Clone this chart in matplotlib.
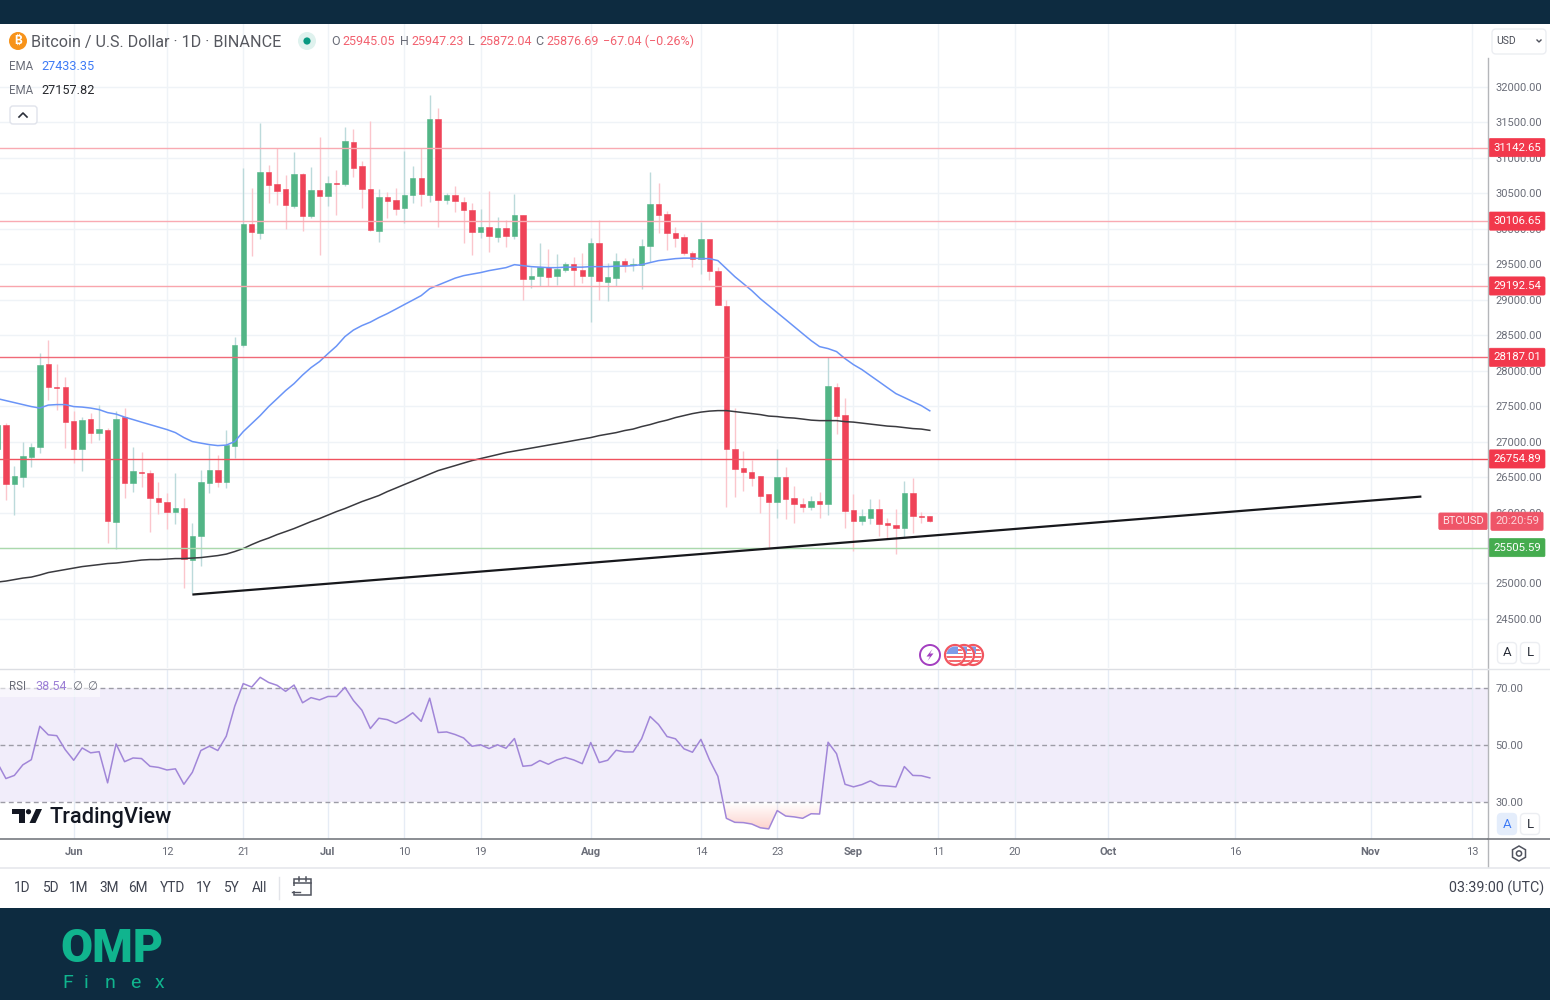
import numpy as np
import pandas as pd
import matplotlib
matplotlib.use("Agg")
import matplotlib.pyplot as plt
import matplotlib.dates as mdates
from matplotlib.patches import Rectangle, Circle, FancyBboxPatch, Polygon, RegularPolygon

plt.rcParams['font.family'] = ['Roboto', 'DejaVu Sans']

# ---------------- data ----------------
dates = pd.date_range('2023-05-23', periods=111, freq='D')

opens = [26901,27239,26408,26506,26788,26929,28099,27774,27774,27295,26901,27324,27126,27169,25872,27352,26422,26577,26563,26211,
 26154,26013,26070,25337,25675,26422,26605,26436,26943,28366,30071,29944,30804,30635,30564,30325,30776,30184,30550,30466,
 30649,30635,31227,30888,30564,29973,30452,30409,30297,30480,30719,30480,31551,30409,30480,30381,30268,29958,30029,29888,
 30015,29902,30198,29296,29338,29465,29338,29423,29508,29423,29338,29803,29254,29310,29550,29493,29493,29761,30353,30212,
 29944,29888,29663,29578,29860,29409,28916,26901,26633,26577,26520,26267,26154,26506,26211,26126,26084,26168,26126,27774,
 27380,26041,25886,25929,26056,25858,25830,25788,26281,25957,25945.05]
highs = [27281,27260,26661,27000,26985,28254,28437,28099,27915,27436,27352,27408,27521,27197,27436,27479,26929,26859,26605,26436,
 26281,26563,26211,25858,26605,26957,26816,27169,28479,30860,30578,31494,30902,31142,30762,31086,30790,30874,31297,30747,
 30832,31438,31410,30959,31522,30564,30522,30578,31100,30888,31142,31889,31706,30508,30607,30452,30367,30283,30536,30170,
 30128,30494,30198,29465,29803,29719,29648,29536,29606,29663,29874,30128,29522,29663,29592,29592,29860,30804,30649,30254,
 30029,29930,29691,30099,29860,29465,29000,27479,26873,26746,26520,26267,26901,26647,26380,26211,26239,26295,28197,27831,
 27620,26267,26056,26196,26196,25929,26056,26450,26492,26013,25947.23]
lows = [26859,26182,25971,26365,26647,26845,27591,27450,26915,26704,26591,26985,27028,25576,25492,26211,26295,26365,25731,25985,
 25774,25844,24942,24872,25252,26281,26365,26351,26774,28338,29620,29860,30367,30339,30001,30297,29973,30156,29634,30325,
 30198,30607,30733,30297,29973,29818,30156,30198,30085,30367,30325,30381,30029,30353,30240,29803,29634,29874,29677,29818,
 29747,29860,29000,29169,29198,29198,29212,29395,29198,29240,28690,29000,28986,29198,29395,29409,29155,29536,29944,29705,
 29747,29634,29465,29367,29282,28930,26084,26225,26309,26380,25999,25506,25929,25915,25858,26013,26041,25929,25971,27112,
 25788,25464,25830,25844,25675,25633,25421,25661,25717,25858,25872.04]
closes = [27239,26408,26520,26802,26929,28084,27774,27760,27281,26901,27310,27126,27183,25886,27324,26422,26591,26563,26211,26154,
 26013,26070,25351,25675,26436,26605,26436,26957,28366,30071,29958,30804,30621,30536,30339,30776,30184,30550,30466,30649,
 30635,31241,30860,30564,29987,30452,30395,30283,30480,30719,30494,31551,30409,30480,30395,30268,29958,30029,29902,30015,
 29902,30198,29296,29338,29465,29324,29437,29508,29423,29338,29803,29268,29324,29550,29493,29508,29761,30353,30198,29944,
 29874,29663,29578,29860,29409,28930,26901,26619,26577,26492,26239,26154,26506,26196,26126,26084,26168,26126,27789,27366,
 26027,25886,25957,26056,25844,25830,25788,26281,25957,25943,25876.69]

ema_fast = [27605,27577,27549,27521,27493,27472,27514,27521,27521,27493,27486,27472,27450,27408,27387,27345,27310,27274,27239,27204,
 27169,27126,27056,27000,26978,26957,26943,26950,27000,27140,27253,27366,27493,27605,27718,27817,27937,28042,28127,28239,
 28345,28479,28571,28634,28683,28747,28803,28866,28930,28993,29057,29155,29205,29254,29303,29338,29360,29381,29409,29430,
 29451,29493,29479,29465,29458,29451,29451,29458,29458,29458,29465,29465,29465,29472,29472,29479,29493,29522,29550,29564,
 29578,29585,29585,29578,29578,29550,29437,29324,29226,29127,29014,28916,28817,28719,28620,28521,28423,28338,28310,28268,
 28169,28084,28014,27929,27845,27760,27676,27620,27563,27507,27433.35]
ema_slow = [25020,25034,25055,25076,25090,25119,25154,25175,25196,25217,25238,25252,25266,25281,25288,25302,25316,25330,25337,25337,
 25344,25351,25351,25358,25365,25379,25393,25414,25450,25492,25548,25598,25640,25689,25731,25774,25823,25872,25915,25964,
 26013,26056,26105,26154,26196,26239,26295,26344,26394,26443,26492,26542,26591,26626,26661,26697,26732,26760,26788,26816,
 26845,26866,26887,26908,26929,26950,26971,26992,27014,27035,27056,27084,27105,27126,27155,27176,27211,27239,27274,27302,
 27338,27366,27394,27415,27429,27436,27436,27422,27408,27394,27380,27359,27352,27338,27331,27317,27302,27295,27295,27295,
 27281,27274,27260,27246,27232,27218,27211,27197,27183,27176,27157.82]
rsi = [43.8,38.3,39.4,43.1,44.9,56.6,53.6,53.3,48.4,44.7,49.0,47.3,47.7,36.8,50.4,44.2,45.5,45.3,42.6,42.2,
 41.3,41.7,36.3,40.5,48.1,49.6,48.1,53.1,63.6,71.5,70.3,73.7,71.9,70.9,68.8,71.0,64.8,66.6,65.8,67.0,
 67.0,70.2,65.6,62.2,55.8,59.4,58.9,57.6,59.2,61.3,58.3,66.4,54.4,54.6,53.7,52.5,49.6,50.1,48.8,50.1,
 48.9,52.3,42.6,42.9,44.6,43.3,44.8,45.7,44.8,43.5,50.9,43.9,44.7,48.2,47.6,47.6,52.2,60.0,57.2,53.0,
 52.2,48.7,47.5,52.0,44.9,39.1,24.4,23.0,22.9,22.4,21.1,20.7,27.1,25.2,24.9,24.4,26.0,25.9,51.0,47.0,
 36.3,35.4,36.2,37.5,35.9,35.7,35.4,42.5,39.4,39.3,38.54]

resistance_levels = [31142.65, 30106.65, 29192.54, 28187.01, 26754.89]
support_levels = [25505.59]
trend_dates = ['2023-06-15', '2023-11-07']
trend_prices = [24844, 26225]

price_ticks = [24500, 25000, 25500, 26000, 26500, 27000, 27500, 28000, 28500, 29000, 29500, 30000, 30500, 31000, 31500, 32000]
hidden_price_labels = [25500]   # fully covered by the 25505.59 badge in the reference
rsi_ticks = [30, 50, 70]
time_ticks = ['2023-06-01', '2023-06-12', '2023-06-21', '2023-07-01', '2023-07-10', '2023-07-19', '2023-08-01', '2023-08-14',
              '2023-08-23', '2023-09-01', '2023-09-11', '2023-09-20', '2023-10-01', '2023-10-16', '2023-11-01', '2023-11-13']
time_labels = ['Jun', '12', '21', 'Jul', '10', '19', 'Aug', '14', '23', 'Sep', '11', '20', 'Oct', '16', 'Nov', '13']
ranges = ['1D', '5D', '1M', '3M', '6M', 'YTD', '1Y', '5Y', 'All']

# ---------------- helpers / layout ----------------
NAVY = '#0d2b40'
UP, DOWN = '#52b586', '#ef4358'
UPW, DOWNW = '#bcdadb', '#fbc6cc'
GRID = '#eff3f7'
TXT = '#6a6d78'
W, H = 1550, 1000

fig = plt.figure(figsize=(W / 100, H / 100), dpi=100, facecolor='white')

def px_axes(l, t, r, b):
    return fig.add_axes([l / W, 1 - b / H, (r - l) / W, (b - t) / H])

xnum = mdates.date2num(dates)
day0 = mdates.date2num(pd.Timestamp('2023-06-01'))
xl = (day0 + (1.0 - 74.7) / 8.476, day0 + (1489.0 - 74.7) / 8.476)
tick_nums = mdates.date2num(pd.to_datetime(time_ticks))

# main pane
ax = px_axes(0, 24, 1488, 668)
p_of_y = lambda y: 25505.59 + (547.6 - y) / 0.07096
ax.set_xlim(*xl)
ax.set_ylim(p_of_y(668), p_of_y(24))
ax.set_facecolor('none')
for s in ax.spines.values():
    s.set_visible(False)
ax.set_xticks(tick_nums)
ax.set_yticks(price_ticks)
ax.set_yticklabels(['' if v in hidden_price_labels else f'{v:.2f}' for v in price_ticks])
ax.yaxis.tick_right()
ax.tick_params(axis='y', length=0, pad=5.5, labelsize=8, labelcolor=TXT)
ax.tick_params(axis='x', length=0, labelbottom=False)
ax.grid(True, color=GRID, lw=1.0)
ax.set_axisbelow(True)

o, h_, l_, c = map(np.array, (opens, highs, lows, closes))
up = c >= o
ax.vlines(xnum[up], l_[up], h_[up], color=UPW, lw=1.0, zorder=2)
ax.vlines(xnum[~up], l_[~up], h_[~up], color=DOWNW, lw=1.0, zorder=2)
ax.bar(xnum[up], (c - o)[up], bottom=o[up], width=0.64, color=UP, edgecolor=UP, lw=0.4, zorder=3)
ax.bar(xnum[~up], (c - o)[~up], bottom=o[~up], width=0.64, color=DOWN, edgecolor=DOWN, lw=0.4, zorder=3)

ax.plot(xnum, ema_fast, color='#6a94f7', lw=1.1, zorder=4)
ax.plot(xnum, ema_slow, color='#3a3a3f', lw=1.1, zorder=4)

res_cols = ['#f9aab2', '#f9aab2', '#f9a5ad', '#f06a78', '#f0525f']
for lv, col in zip(resistance_levels, res_cols):
    ax.axhline(lv, color=col, lw=1.0, zorder=4)
for lv in support_levels:
    ax.axhline(lv, color='#abd9ac', lw=1.0, zorder=4)
ax.plot(mdates.date2num(pd.to_datetime(trend_dates)), trend_prices, color='#17181c', lw=1.6, zorder=5, solid_capstyle='butt')

def badge(a, level, txt, col, txtcol='white'):
    a.annotate(txt, xy=(1, level), xycoords=('axes fraction', 'data'), xytext=(29, 0), textcoords='offset pixels',
               ha='center', va='center', fontsize=8.2, color=txtcol, zorder=20, annotation_clip=False,
               bbox=dict(boxstyle='round,pad=0.36,rounding_size=0.12', fc=col, ec=col, lw=0.5))

for lv in resistance_levels:
    badge(ax, lv, f'{lv:.2f}', '#f2384c')
for lv in support_levels:
    badge(ax, lv, f'{lv:.2f}', '#45ac4f')
badge(ax, closes[-1], '20:20:59', '#ef5568', '#fcd3d8')
ax.annotate('BTCUSD', xy=(1, closes[-1]), xycoords=('axes fraction', 'data'), xytext=(-25, 0), textcoords='offset pixels',
            ha='center', va='center', fontsize=8, color='#fde3e6', zorder=20, annotation_clip=False,
            bbox=dict(boxstyle='round,pad=0.3,rounding_size=0.12', fc='#ef5568', ec='#ef5568', lw=0.5))

# RSI pane
ar = px_axes(0, 669, 1488, 839)
r_of_y = lambda y: 70 - (y - 687.9) / 2.86
ar.set_xlim(*xl)
ar.set_ylim(r_of_y(839), r_of_y(669))
ar.set_facecolor('none')
for s in ar.spines.values():
    s.set_visible(False)
ar.spines['bottom'].set_visible(True)
ar.spines['bottom'].set_color('#777a80')
ar.spines['bottom'].set_linewidth(1.2)
ar.axhspan(30, 70, color='#f1edfa', zorder=0.5, lw=0)
ar.set_xticks(tick_nums)
ar.set_xticklabels(time_labels)
for lab, t in zip(ar.get_xticklabels(), time_labels):
    lab.set_fontweight('bold' if not t.isdigit() else 'normal')
ar.tick_params(axis='x', length=0, pad=6, labelsize=8, labelcolor=TXT)
ar.grid(True, axis='x', color='#e6ecf5', lw=1.0)
ar.set_axisbelow(True)
ar.set_yticks(rsi_ticks)
ar.set_yticklabels([f'{v:.2f}' for v in rsi_ticks])
ar.yaxis.tick_right()
ar.tick_params(axis='y', length=0, pad=5.5, labelsize=8, labelcolor=TXT)
for lv in rsi_ticks:
    ar.axhline(lv, color='#9d9ca6', lw=1.0, dashes=(3.5, 2.5), zorder=2)

rsi_arr = np.array(rsi)
poly = ar.fill_between(xnum, rsi_arr, 30, where=rsi_arr < 30, interpolate=True, color='none', lw=0)
grad = np.zeros((64, 2, 4))
grad[..., 0], grad[..., 1], grad[..., 2] = 0.98, 0.55, 0.50
grad[..., 3] = np.linspace(0, 0.42, 64)[:, None]
x0, x1 = xnum.min(), xnum.max()
im = ar.imshow(grad, extent=(x0, x1, 20, 30), origin='upper', aspect='auto', zorder=1.5)
im.set_clip_path(poly.get_paths()[0], transform=ar.transData)
ar.set_xlim(*xl)
ar.set_ylim(r_of_y(839), r_of_y(669))
ar.plot(xnum, rsi_arr, color='#a186d8', lw=1.1, zorder=3)

# UI overlay in pixel coordinates
ui = fig.add_axes([0, 0, 1, 1], zorder=10)
ui.set_xlim(0, W)
ui.set_ylim(H, 0)
ui.axis('off')
ui.patch.set_alpha(0)

ui.add_patch(Rectangle((0, 0), W, 24, fc=NAVY, ec='none'))
ui.add_patch(Rectangle((0, 908), W, 92, fc=NAVY, ec='none'))
ui.plot([1488, 1488], [58, 867], color='#b4b6ba', lw=1.0)
ui.plot([0, 1488], [668.5, 668.5], color='#dcdee3', lw=1.0)
ui.plot([1488, W], [668.5, 668.5], color='#e4e6ea', lw=1.0)
ui.plot([1488, W], [839, 839], color='#77797f', lw=1.2)
ui.plot([0, W], [867.5, 867.5], color='#e6e8ec', lw=1.2)

def T(x, y, s, size=8, color=TXT, ha='left', va='center', **kw):
    return ui.text(x, y + 1, s, fontsize=size, color=color, ha=ha, va=va, **kw)

# legend row
ui.add_patch(Circle((18, 41), 9, fc='#f7931a', ec='none'))
T(18, 40, '₿', 8.5, 'white', ha='center', fontweight='bold', family=['Inter', 'Noto Sans', 'Open Sans', 'Lato', 'DejaVu Sans'])
T(31, 41, 'Bitcoin / U.S. Dollar · 1D · BINANCE', 11.6, '#56585f')
ui.add_patch(Circle((307, 41), 9, fc='#dff2ee', ec='none'))
ui.add_patch(Circle((307, 41), 3.6, fc='#089981', ec='none'))
RED = '#f2616f'
for x, s, col in [(331, 'O', TXT), (342, '25945.05', RED), (400, 'H', TXT), (411, '25947.23', RED),
                  (468, 'L', TXT), (479, '25872.04', RED), (535, 'C', TXT), (546, '25876.69', RED),
                  (603, '−67.04 (−0.26%)', RED)]:
    T(x, 40.5, s, 9, col)
T(9, 65, 'EMA', 8.3, TXT)
T(41, 65, '27433.35', 9.1, '#3f7bf6')
T(9, 90, 'EMA', 8.3, TXT)
T(41, 90, '27157.82', 9.1, '#26272c')
ui.add_patch(FancyBboxPatch((10, 106), 27, 18, boxstyle='round,pad=0,rounding_size=3', fc='white', ec='#e0e3eb', lw=1))
ui.plot([19, 23, 27], [117, 113, 117], color='#2a2e39', lw=1.2)

# top right USD
ui.add_patch(FancyBboxPatch((1492, 29), 54, 25, boxstyle='round,pad=0,rounding_size=4', fc='white', ec='#eceef2', lw=1))
T(1496, 40, 'USD', 7.5, '#4a4d57')
ui.plot([1537, 1539, 1541], [40, 42, 40], color='#50535e', lw=1)

# A / L buttons
for x, y, s, fc, col in [(1507, 653, 'A', 'white', '#2a2e39'), (1530, 653, 'L', 'white', '#2a2e39'),
                         (1507, 824, 'A', '#e4edfb', '#3f7bf6'), (1530, 824, 'L', 'white', '#2a2e39')]:
    ui.add_patch(FancyBboxPatch((x - 9.5, y - 10.5), 19, 21, boxstyle='round,pad=0,rounding_size=4', fc=fc,
                                ec='#eceef2' if fc == 'white' else fc, lw=1))
    T(x, y - 1, s, 9.5, col, ha='center')

# events row
ui.add_patch(Circle((930, 655), 10, fc='white', ec='#a33ec0', lw=1.4))
ui.add_patch(Polygon([(932.5, 649), (926.5, 656.5), (930, 656.5), (927.5, 661), (933.5, 653.5), (930, 653.5)], fc='#a33ec0', ec='none'))
for cx in (973, 964, 955):
    ring = Circle((cx, 655), 10, fc='white', ec='#f2555f', lw=1.6, zorder=3)
    ui.add_patch(ring)
    clip = Circle((cx, 655), 8.6, transform=ui.transData)
    for k in range(4):
        r = Rectangle((cx - 9, 649 + 3.6 * k), 18, 1.8, fc='#f46a6f', ec='none', zorder=3)
        ui.add_patch(r)
        r.set_clip_path(clip)
    r = Rectangle((cx - 9, 646), 12, 8, fc='#7d9be8', ec='none', zorder=3)
    ui.add_patch(r)
    r.set_clip_path(clip)

# RSI legend
ui.add_patch(Rectangle((0, 673), 100, 24, fc='white', ec='none', alpha=0.55))
T(9, 685, 'RSI', 8.3, TXT)
T(35, 685, '38.54', 9, '#9c7fd6')
T(72, 685, '∅', 8.3, TXT, family=['DejaVu Sans'])
T(87, 685, '∅', 8.3, TXT, family=['DejaVu Sans'])

# TradingView logo
LOGO = '#131722'
ui.add_patch(Polygon([(12, 809), (25, 809), (25, 823), (19, 823), (19, 814), (12, 814)], fc=LOGO, ec='none'))
ui.add_patch(Circle((28.5, 811.7), 2.6, fc=LOGO, ec='none'))
ui.add_patch(Polygon([(36, 809), (42, 809), (35.5, 823), (29.5, 823)], fc=LOGO, ec='none'))
T(49, 816.5, 'TradingView', 15.7, LOGO, fontweight='medium')

# range row
for x, s in zip([22, 51, 79, 109, 138, 172, 204, 232, 260], ranges):
    T(x, 887, s, 9.8, '#3f4350', ha='center')
ui.plot([279, 279], [877, 899], color='#e2e4e9', lw=1)
ui.add_patch(Rectangle((294, 879), 17, 16, fc='none', ec='#50535e', lw=1.1))
ui.add_patch(Rectangle((291, 886), 10, 5, fc='white', ec='none'))
ui.plot([299, 299], [877, 881], color='#50535e', lw=1.1)
ui.plot([306, 306], [877, 881], color='#50535e', lw=1.1)
ui.plot([294, 311], [883, 883], color='#50535e', lw=1.1)
ui.plot([292, 300], [892, 892], color='#50535e', lw=1.0)
T(1544, 887, '03:39:00 (UTC)', 10.3, '#3f4350', ha='right')

# gear
ui.add_patch(RegularPolygon((1519, 853.5), 6, radius=7.5, fc='white', ec='#50535e', lw=1.1))
ui.add_patch(Circle((1519, 853.5), 2.6, fc='white', ec='#50535e', lw=1.1))

# OMP Finex logo
TEAL = '#10b48e'
ui.text(60, 962.5, 'OMP', fontsize=33.5, color=TEAL, fontweight='black', ha='left', va='baseline')
for x, s in zip([68, 86, 110, 135, 159], 'Finex'):
    ui.text(x, 988, s, fontsize=14, color=TEAL, ha='center', va='baseline')

fig.savefig('out.png', dpi=100)
